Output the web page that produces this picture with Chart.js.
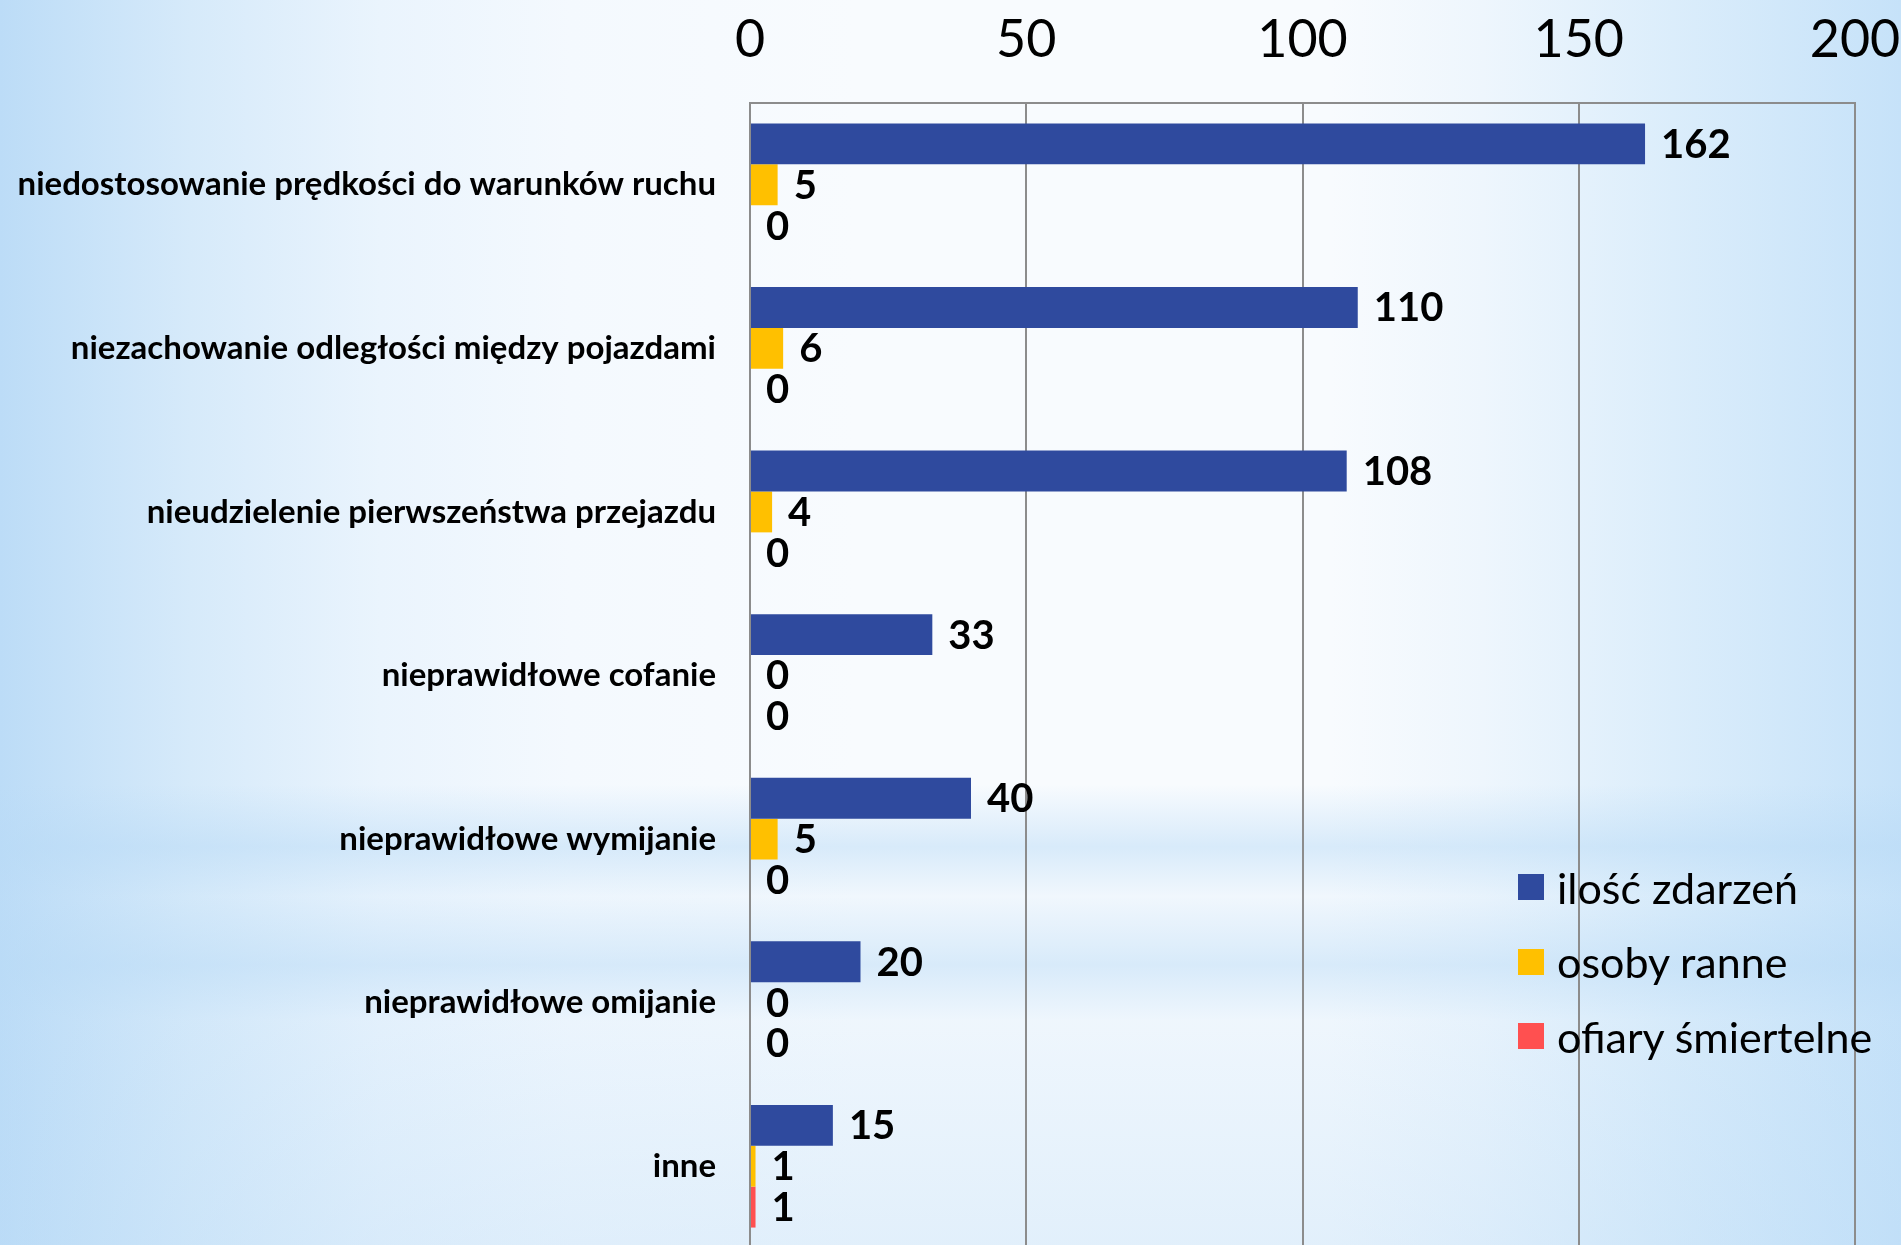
<!DOCTYPE html>
<html>
<head>
<meta charset="utf-8">
<script src="https://cdn.jsdelivr.net/npm/chart.js@4.4.1/dist/chart.umd.min.js"></script>
<style>
  html, body { margin: 0; padding: 0; width: 1901px; height: 1245px; overflow: hidden; }
  body {
    position: relative;
    background:
      linear-gradient(180deg, rgba(184,218,246,0) 0%, rgba(184,218,246,0) 63%, rgba(184,218,246,0.5) 68%, rgba(184,218,246,0.12) 72%, rgba(184,218,246,0.5) 77.5%, rgba(184,218,246,0.15) 82%, rgba(184,218,246,0.35) 100%),
      linear-gradient(90deg, #bcdcf7 0%, #d6eafa 10%, #eaf4fd 20%, #f4f9fe 30%, #f8fbfe 45%, #f8fbfe 70%, #eef6fd 78%, #dbedfb 88%, #c6e2f9 100%);
  }
  #wrap { position: absolute; left: 0; top: 0; width: 1901px; height: 1248px; }
  #legend { position: absolute; left: 1518px; top: 850px; font-family: Lato, "Open Sans", sans-serif; font-size: 43px; color: #000; }
  .item { display: flex; align-items: center; height: 74.5px; }
  .box { width: 26px; height: 26px; margin-right: 13px; flex: none; }
</style>
</head>
<body>
<div id="wrap"><canvas id="c" width="1901" height="1248"></canvas></div>
<div id="legend"></div>
<script>
const categories = [
  'niedostosowanie prędkości do warunków ruchu',
  'niezachowanie odległości między pojazdami',
  'nieudzielenie pierwszeństwa przejazdu',
  'nieprawidłowe cofanie',
  'nieprawidłowe wymijanie',
  'nieprawidłowe omijanie',
  'inne'
];
const seriesNames = ['ilość zdarzeń', 'osoby ranne', 'ofiary śmiertelne'];
const incidents = [162, 110, 108, 33, 40, 20, 15];
const injured = [5, 6, 4, 0, 5, 0, 1];
const fatalities = [0, 0, 0, 0, 0, 0, 1];
const tickValues = [0, 50, 100, 150, 200];
const seriesColors = ['#2f4a9e', '#ffc000', '#ff5050'];

const seriesData = [incidents, injured, fatalities];

const valueLabels = {
  id: 'valueLabels',
  afterDatasetsDraw(chart) {
    const ctx = chart.ctx;
    ctx.save();
    ctx.font = 'bold 40px Lato, "Open Sans", sans-serif';
    ctx.fillStyle = '#000';
    ctx.textAlign = 'left';
    ctx.textBaseline = 'middle';
    chart.data.datasets.forEach((ds, i) => {
      const meta = chart.getDatasetMeta(i);
      meta.data.forEach((el, j) => {
        ctx.fillText(String(ds.data[j]), el.x + 16, el.y + 1);
      });
    });
    ctx.restore();
  }
};

new Chart(document.getElementById('c'), {
  type: 'bar',
  data: {
    labels: categories,
    datasets: seriesNames.map((name, i) => ({
      label: name,
      data: seriesData[i],
      backgroundColor: seriesColors[i],
      borderWidth: 0,
      categoryPercentage: 0.75,
      barPercentage: 1.0
    }))
  },
  options: {
    indexAxis: 'y',
    responsive: false,
    animation: false,
    devicePixelRatio: 1,
    layout: { padding: { left: 0, right: 46, top: 0, bottom: 0 } },
    plugins: { legend: { display: false }, tooltip: { enabled: false } },
    scales: {
      x: {
        position: 'top',
        min: 0,
        max: 200,
        afterBuildTicks(scale) { scale.ticks = tickValues.map(v => ({ value: v })); },
        afterFit(scale) {
          scale.height = 103;
          scale.paddingLeft = 0; scale.paddingRight = 0;
          scale.paddingTop = 0; scale.paddingBottom = 0;
        },
        ticks: {
          color: '#000',
          font: { family: 'Lato, "Open Sans", sans-serif', size: 52 },
          padding: 32,
          maxRotation: 0
        },
        grid: { color: '#8c8c8c', lineWidth: 2, drawTicks: false },
        border: { display: true, color: '#8c8c8c', width: 2 }
      },
      y: {
        afterFit(scale) {
          scale.width = 750;
          scale.paddingLeft = 0; scale.paddingRight = 0;
          scale.paddingTop = 0; scale.paddingBottom = 0;
        },
        ticks: {
          color: '#000',
          font: { family: 'Lato, "Open Sans", sans-serif', size: 33, weight: 'bold' },
          padding: 34
        },
        grid: { display: false, drawTicks: false },
        border: { display: true, color: '#8c8c8c', width: 2 }
      }
    }
  },
  plugins: [valueLabels]
});

const legend = document.getElementById('legend');
seriesNames.forEach((name, i) => {
  const item = document.createElement('div');
  item.className = 'item';
  const box = document.createElement('span');
  box.className = 'box';
  box.style.background = seriesColors[i];
  const txt = document.createElement('span');
  txt.textContent = name;
  item.appendChild(box);
  item.appendChild(txt);
  legend.appendChild(item);
});
</script>
</body>
</html>
